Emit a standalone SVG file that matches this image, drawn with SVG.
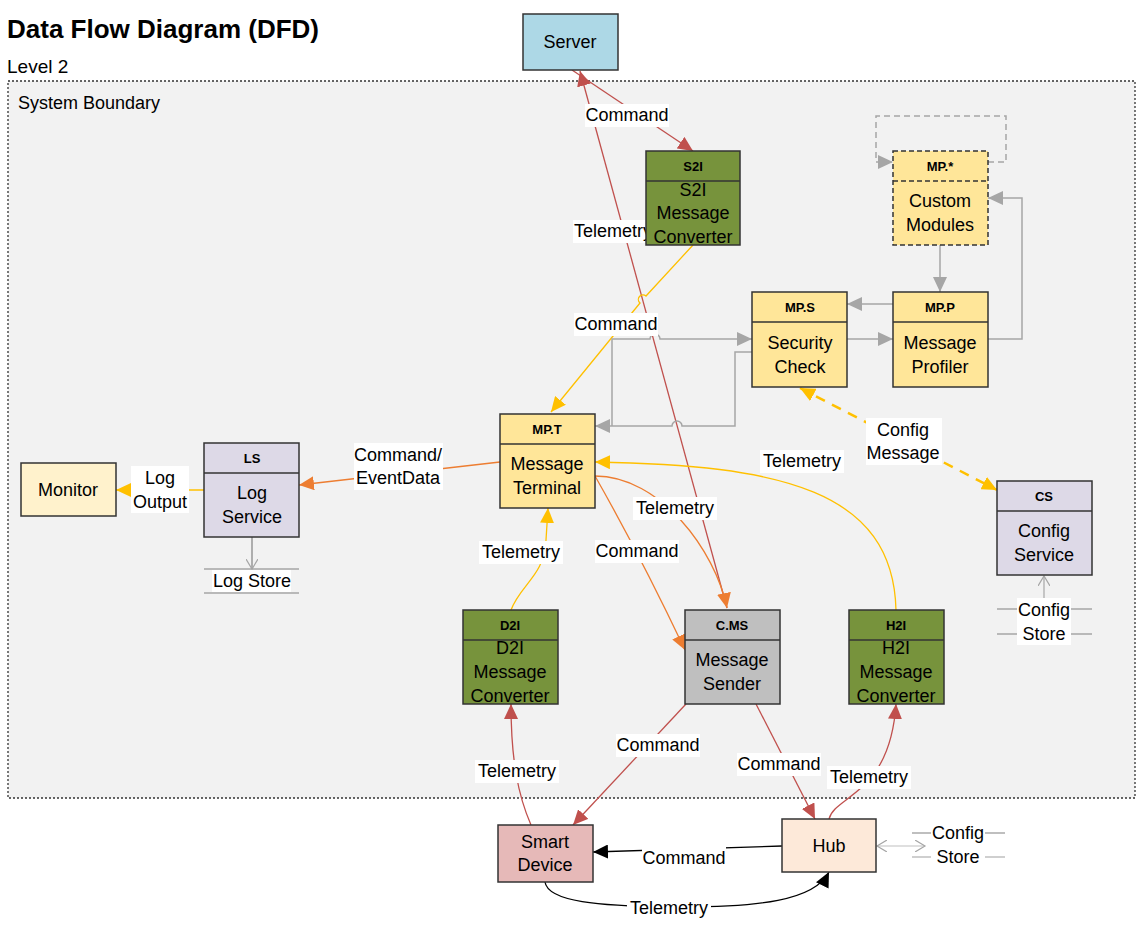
<svg xmlns="http://www.w3.org/2000/svg" width="1136" height="929" viewBox="0 0 1136 929">
<style>
text{font-family:"Liberation Sans",Arial,sans-serif;fill:#000}
.t{font-size:18px;text-anchor:middle}
.h{font-size:13px;font-weight:bold;text-anchor:middle}
.box{stroke:#333;stroke-width:1.5}
.lbl{fill:#fff}
.red{stroke:#C0504D;stroke-width:1.3;fill:none}
.org{stroke:#ED7D31;stroke-width:1.3;fill:none}
.yel{stroke:#FFC000;stroke-width:1.3;fill:none}
.gry{stroke:#A6A6A6;stroke-width:1.5;fill:none}
.blk{stroke:#000;stroke-width:1.3;fill:none}
.store{stroke:#A6A6A6;stroke-width:1.3}
</style>
<defs>
<marker id="aR" markerUnits="userSpaceOnUse" markerWidth="16" markerHeight="14" refX="15" refY="7" orient="auto"><path d="M0,0 L15,7 L0,14 z" fill="#C0504D"/></marker>
<marker id="aO" markerUnits="userSpaceOnUse" markerWidth="16" markerHeight="14" refX="15" refY="7" orient="auto"><path d="M0,0 L15,7 L0,14 z" fill="#ED7D31"/></marker>
<marker id="aY" markerUnits="userSpaceOnUse" markerWidth="16" markerHeight="14" refX="15" refY="7" orient="auto-start-reverse"><path d="M0,0 L15,7 L0,14 z" fill="#FFC000"/></marker>
<marker id="aG" markerUnits="userSpaceOnUse" markerWidth="16" markerHeight="14" refX="15" refY="7" orient="auto"><path d="M0,0 L15,7 L0,14 z" fill="#A6A6A6"/></marker>
<marker id="aK" markerUnits="userSpaceOnUse" markerWidth="16" markerHeight="14" refX="15" refY="7" orient="auto"><path d="M0,0 L15,7 L0,14 z" fill="#000"/></marker>
<marker id="oG" markerUnits="userSpaceOnUse" markerWidth="12" markerHeight="12" refX="10" refY="6" orient="auto-start-reverse"><path d="M0,0 L10,6 L0,12" fill="none" stroke="#A6A6A6" stroke-width="1.2"/></marker>
</defs>

<text x="7" y="38" style="font-size:26px;font-weight:bold">Data Flow Diagram (DFD)</text>
<text x="7" y="73" style="font-size:19px">Level 2</text>

<g id="system-boundary">
<rect x="8" y="81" width="1127" height="717" fill="#F2F2F2" stroke="#333" stroke-width="1.3" stroke-dasharray="2,2"/>
<text x="18" y="109" style="font-size:18px">System Boundary</text>
</g>

<g id="stores">
<line class="store" x1="204" y1="569" x2="299" y2="569"/>
<line class="store" x1="204" y1="593" x2="299" y2="593"/>
<line class="store" x1="997" y1="609" x2="1092" y2="609"/>
<line class="store" x1="997" y1="634" x2="1092" y2="634"/>
<line x1="912" y1="833" x2="1005" y2="833" stroke="#808080" stroke-width="1.2"/>
<line x1="912" y1="857" x2="1005" y2="857" stroke="#BFBFBF" stroke-width="1.6"/>
</g>

<g id="connectors">
<path class="red" d="M572,70 L693,151" marker-end="url(#aR)"/>
<path class="red" d="M727,608 L580,71" marker-end="url(#aR)"/>
<path class="red" d="M686,704 L573,825" marker-end="url(#aR)"/>
<path class="red" d="M756,704 L815,819" marker-end="url(#aR)"/>
<path class="red" d="M531,825 C518,795 511,760 511,704" marker-end="url(#aR)"/>
<path class="red" d="M829,819 C835,795 890,795 896,704" marker-end="url(#aR)"/>

<path class="org" d="M500,462 L299,485" marker-end="url(#aO)"/>
<path class="org" d="M595,476 Q640,555 685,650" marker-end="url(#aO)"/>
<path class="org" d="M595,476 C660,476 715,550 727,608" marker-end="url(#aO)"/>

<path class="yel" d="M693,245 L646,296 A4,4 0 0 0 640,303 L551,412" marker-end="url(#aY)"/>
<path class="yel" d="M204,490 H116" marker-end="url(#aY)"/>
<path class="yel" d="M511,610 C520,585 545,575 546,540 L548,508" marker-end="url(#aY)"/>
<path class="yel" d="M896,610 C893,490 780,465 595,462" marker-end="url(#aY)"/>
<path d="M800,388 L997,490" fill="none" stroke="#FFC000" stroke-width="2.5" stroke-dasharray="10,8" marker-start="url(#aY)" marker-end="url(#aY)"/>

<path class="gry" d="M612,426 V339 H650 A5,5 0 0 1 660,339 H752" marker-end="url(#aG)"/>
<path class="gry" d="M752,352 H735 V426 H682 A5,5 0 0 0 672,426 H595" marker-end="url(#aG)"/>
<path class="gry" d="M847,339 H893" marker-end="url(#aG)"/>
<path class="gry" d="M893,304 H847" marker-end="url(#aG)"/>
<path class="gry" d="M988,339 H1022 V198 H988" marker-end="url(#aG)"/>
<path class="gry" d="M940,245 V292" marker-end="url(#aG)"/>
<path class="gry" d="M988,162 H1006 V116 H876 V162 H893" stroke="#BFBFBF" stroke-dasharray="6,4" marker-end="url(#aG)"/>

<path d="M252,537 V569" stroke="#808080" stroke-width="1.2" fill="none" marker-end="url(#oG)"/>
<path d="M1044,608 V576" stroke="#A6A6A6" stroke-width="1.2" fill="none" marker-start="url(#oG)" marker-end="url(#oG)"/>
<path d="M877,846 H925" stroke="#BFBFBF" stroke-width="1.2" fill="none" marker-start="url(#oG)" marker-end="url(#oG)"/>

<path class="blk" d="M782,846 L593,852" marker-end="url(#aK)"/>
<path class="blk" d="M545,882 C548,902 600,906 669,907 C760,908 815,900 829,872" marker-end="url(#aK)"/>

<g id="labels">
<rect class="lbl" x="585" y="104" width="84" height="23"/><text class="t" x="627" y="121">Command</text>
<rect class="lbl" x="573" y="220" width="82" height="23"/><text x="574" y="237" style="font-size:18px">Telemetry</text>
<rect class="lbl" x="574" y="313" width="84" height="23"/><text class="t" x="616" y="330">Command</text>
<rect class="lbl" x="354" y="443" width="89" height="47"/><text class="t" x="398" y="461">Command/</text><text class="t" x="398" y="484">EventData</text>
<rect class="lbl" x="131" y="466" width="58" height="47"/><text class="t" x="160" y="484">Log</text><text class="t" x="160" y="508">Output</text>
<rect class="lbl" x="212" y="570" width="79" height="22"/><text class="t" x="252" y="587">Log Store</text>
<rect class="lbl" x="479" y="541" width="84" height="23"/><text class="t" x="521" y="558">Telemetry</text>
<rect class="lbl" x="595" y="540" width="84" height="23"/><text class="t" x="637" y="557">Command</text>
<rect class="lbl" x="633" y="497" width="84" height="23"/><text class="t" x="675" y="514">Telemetry</text>
<rect class="lbl" x="760" y="450" width="84" height="23"/><text class="t" x="802" y="467">Telemetry</text>
<rect class="lbl" x="866" y="418" width="76" height="47"/><text class="t" x="903" y="436">Config</text><text class="t" x="903" y="459">Message</text>
<rect class="lbl" x="1017" y="598" width="54" height="47"/><text class="t" x="1044" y="616">Config</text><text class="t" x="1044" y="640">Store</text>
<rect class="lbl" x="616" y="734" width="84" height="23"/><text class="t" x="658" y="751">Command</text>
<rect class="lbl" x="737" y="753" width="84" height="23"/><text class="t" x="779" y="770">Command</text>
<rect class="lbl" x="475" y="760" width="84" height="23"/><text class="t" x="517" y="777">Telemetry</text>
<rect class="lbl" x="827" y="766" width="84" height="23"/><text class="t" x="869" y="783">Telemetry</text>
<rect class="lbl" x="642" y="847" width="84" height="23"/><text class="t" x="684" y="864">Command</text>
<rect class="lbl" x="627" y="897" width="84" height="23"/><text class="t" x="669" y="914">Telemetry</text>
<rect class="lbl" x="931" y="822" width="54" height="47"/><text class="t" x="958" y="839">Config</text><text class="t" x="958" y="863">Store</text>
</g>
</g>

<g id="node-server"><rect class="box" x="523" y="14" width="95" height="56" fill="#ADD8E6"/><text class="t" x="570" y="48">Server</text></g>

<g id="node-s2i"><rect class="box" x="646" y="151" width="94" height="94" fill="#77933C"/><line class="box" x1="646" y1="181" x2="740" y2="181"/><text class="h" x="693" y="171">S2I</text><text class="t" x="693" y="196">S2I</text><text class="t" x="693" y="219">Message</text><text class="t" x="693" y="243">Converter</text></g>

<g id="node-mp-custom"><rect class="box" x="893" y="151" width="95" height="94" fill="#FFE699" stroke-dasharray="5,3"/><line class="box" x1="893" y1="181" x2="988" y2="181" stroke-dasharray="5,3"/><text class="h" x="940" y="171">MP.*</text><text class="t" x="940" y="207">Custom</text><text class="t" x="940" y="231">Modules</text></g>

<g id="node-mp-s"><rect class="box" x="752" y="292" width="95" height="95" fill="#FFE699"/><line class="box" x1="752" y1="322" x2="847" y2="322"/><text class="h" x="800" y="312">MP.S</text><text class="t" x="800" y="349">Security</text><text class="t" x="800" y="373">Check</text></g>

<g id="node-mp-p"><rect class="box" x="893" y="292" width="95" height="95" fill="#FFE699"/><line class="box" x1="893" y1="322" x2="988" y2="322"/><text class="h" x="940" y="312">MP.P</text><text class="t" x="940" y="349">Message</text><text class="t" x="940" y="373">Profiler</text></g>

<g id="node-mp-t"><rect class="box" x="500" y="414" width="95" height="94" fill="#FFE699"/><line class="box" x1="500" y1="444" x2="595" y2="444"/><text class="h" x="547" y="434">MP.T</text><text class="t" x="547" y="470">Message</text><text class="t" x="547" y="494">Terminal</text></g>

<g id="node-ls"><rect class="box" x="204" y="443" width="95" height="94" fill="#DDD9E7"/><line class="box" x1="204" y1="473" x2="299" y2="473"/><text class="h" x="252" y="463">LS</text><text class="t" x="252" y="499">Log</text><text class="t" x="252" y="523">Service</text></g>

<g id="node-monitor"><rect class="box" x="21" y="463" width="95" height="53" fill="#FFF2CC"/><text class="t" x="68" y="496">Monitor</text></g>

<g id="node-cs"><rect class="box" x="997" y="481" width="95" height="94" fill="#DDD9E7"/><line class="box" x1="997" y1="511" x2="1092" y2="511"/><text class="h" x="1044" y="501">CS</text><text class="t" x="1044" y="537">Config</text><text class="t" x="1044" y="561">Service</text></g>

<g id="node-d2i"><rect class="box" x="463" y="610" width="95" height="94" fill="#77933C"/><line class="box" x1="463" y1="640" x2="558" y2="640"/><text class="h" x="510" y="630">D2I</text><text class="t" x="510" y="654">D2I</text><text class="t" x="510" y="678">Message</text><text class="t" x="510" y="702">Converter</text></g>

<g id="node-cms"><rect class="box" x="685" y="610" width="95" height="94" fill="#BFBFBF"/><line class="box" x1="685" y1="640" x2="780" y2="640"/><text class="h" x="732" y="630">C.MS</text><text class="t" x="732" y="666">Message</text><text class="t" x="732" y="690">Sender</text></g>

<g id="node-h2i"><rect class="box" x="849" y="610" width="95" height="94" fill="#77933C"/><line class="box" x1="849" y1="640" x2="944" y2="640"/><text class="h" x="896" y="630">H2I</text><text class="t" x="896" y="654">H2I</text><text class="t" x="896" y="678">Message</text><text class="t" x="896" y="702">Converter</text></g>

<g id="node-smart-device"><rect class="box" x="498" y="825" width="95" height="57" fill="#E6B9B8"/><text class="t" x="545" y="848">Smart</text><text class="t" x="545" y="871">Device</text></g>

<g id="node-hub"><rect class="box" x="782" y="819" width="94" height="53" fill="#FDE9D9"/><text class="t" x="829" y="852">Hub</text></g>
</svg>
